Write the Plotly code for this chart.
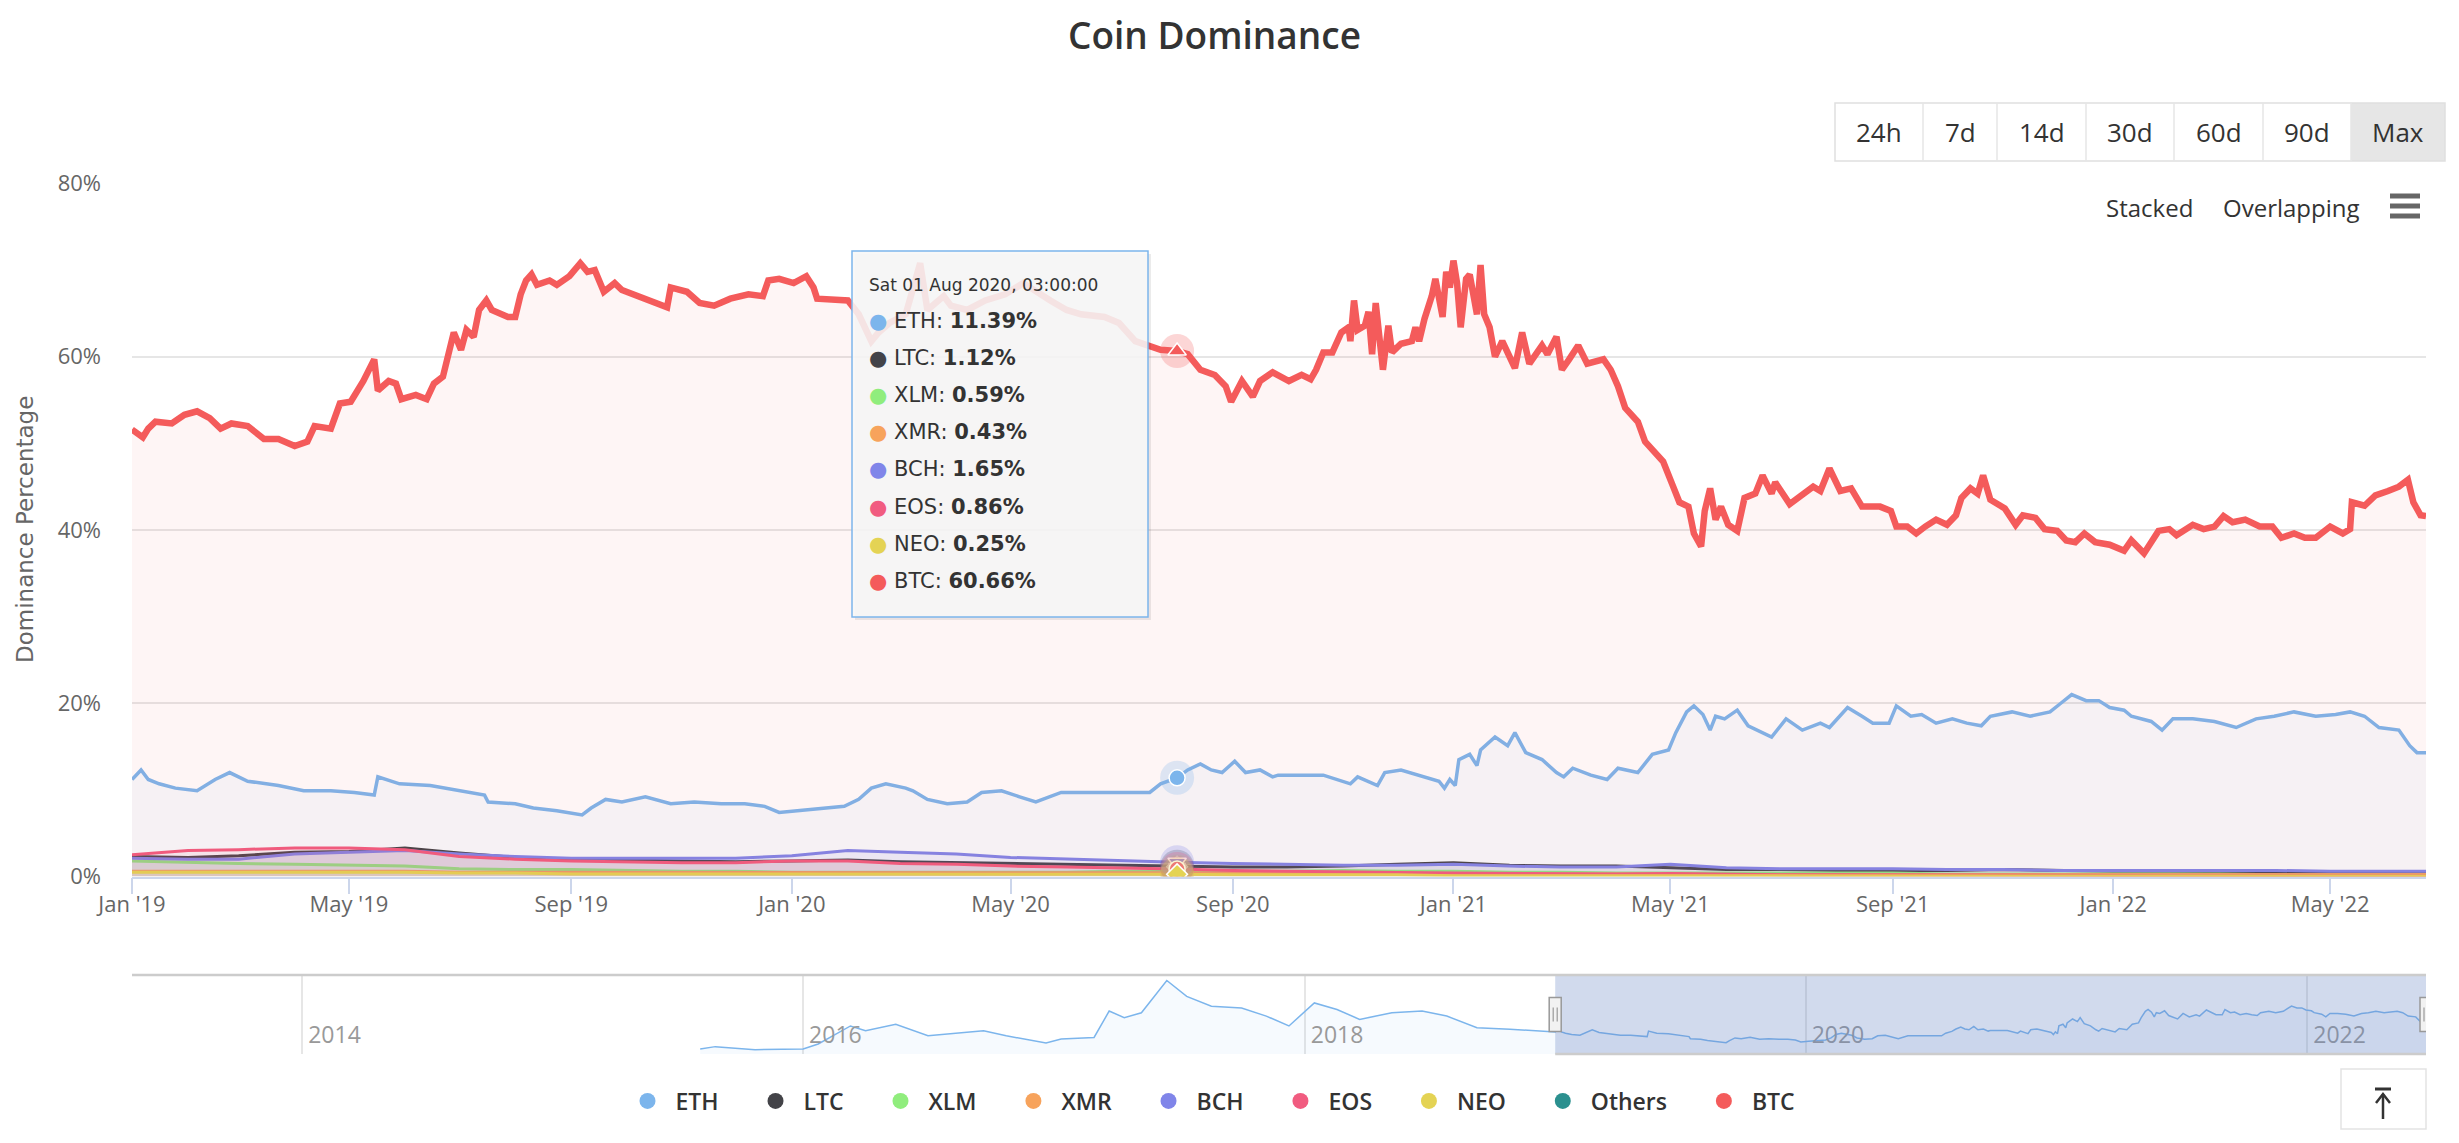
import pandas as pd
import plotly.graph_objects as go

W, H = 2459, 1143      # browser window
PAD = 8                # default page margin around the figure
FW, FH = W - 2 * PAD, H - 2 * PAD

# ---------------- data ----------------
BASE_DATE = "2019-01-01"

# BTC dominance (%); x = days since 2019-01-01
btc_day = [0, 6, 9, 13, 22, 29, 36, 43, 49, 55, 64, 73, 81, 90, 97, 101, 110, 115, 121, 128,
           134, 136, 142, 146, 149, 157, 163, 167, 172, 174, 178, 182, 185, 189, 192, 196, 199, 208, 212, 215,
           218, 221, 224, 231, 235, 242, 248, 252, 256, 261, 267, 271, 277, 284, 290, 296, 298, 307,
           314, 322, 331, 341, 349, 352, 358, 366, 373, 377, 379, 388, 396, 402, 409, 413, 419, 428, 436, 440,
           449, 453, 462, 472, 483, 493, 500, 508, 517, 525, 538, 546, 555, 563, 569, 578, 584, 591, 599, 605,
           608, 614, 620, 624, 631,
           640, 647, 652, 655, 659, 664, 669, 673, 674, 676, 678, 682, 684, 686, 688, 690, 692, 695, 697, 702,
           708, 710, 712, 715, 719, 721, 723, 725, 727, 729, 731, 733, 735, 738, 740, 742, 744, 746, 748, 751,
           754, 758, 761, 765, 769, 773, 780, 783, 788, 791, 795, 800, 805, 814, 818, 822, 826, 833, 837, 843,
           847, 852, 856, 861, 864, 868, 870, 873, 876, 879, 883, 888, 892, 898, 902, 907, 909, 917, 924, 930,
           934, 939, 945, 951, 957,
           961, 967, 973, 976, 982, 987, 992, 998, 1004, 1009, 1012, 1017, 1021, 1024, 1028, 1036, 1042, 1046, 1053, 1058,
           1065, 1070, 1075, 1080, 1086, 1094, 1102, 1106, 1113, 1121, 1127, 1131, 1140, 1146, 1152, 1157, 1162, 1169, 1177, 1184,
           1189, 1196, 1202, 1208, 1216, 1223, 1227, 1228, 1235, 1241, 1248, 1254, 1259, 1262, 1266, 1269]
btc_val = [51.6, 50.7, 51.7, 52.5, 52.3, 53.3, 53.7, 52.9, 51.7, 52.3, 52.0, 50.5, 50.5, 49.7, 50.2, 52.0, 51.7, 54.6, 54.8, 57.2,
           59.7, 56.1, 57.2, 56.9, 55.1, 55.6, 55.1, 56.9, 57.7, 59.2, 62.8, 60.8, 63.1, 62.3, 65.4, 66.5, 65.4, 64.6, 64.6, 67.2,
           68.8, 69.5, 68.3, 68.8, 68.3, 69.3, 70.8, 69.8, 70.0, 67.5, 68.5, 67.7, 67.2, 66.7, 66.2, 65.7, 68.0, 67.5,
           66.2, 65.9, 66.7, 67.2, 67.0, 68.8, 69.0, 68.5, 69.3, 68.0, 66.7, 66.5, 66.5, 64.9, 61.8, 62.8, 63.9, 64.9, 70.8, 65.4,
           67.0, 65.9, 65.4, 66.5, 67.2, 68.5, 67.5, 66.5, 65.4, 64.9, 64.6, 63.9, 61.8, 61.3, 60.8, 60.66, 60.3, 58.5, 57.9, 56.6,
           54.8, 57.2, 55.4, 57.2, 58.2,
           57.2, 57.9, 57.4, 58.5, 60.5, 60.5, 62.8, 63.4, 61.8, 66.5, 63.1, 63.6, 65.2, 60.3, 66.2, 62.8, 58.5, 63.6, 60.5, 61.5,
           61.8, 63.4, 61.8, 64.4, 67.0, 69.0, 67.2, 64.6, 69.8, 68.0, 71.1, 68.5, 63.4, 69.0, 69.5, 67.5, 64.9, 70.6, 64.9, 63.4,
           60.0, 61.8, 60.3, 58.7, 62.8, 59.2, 61.3, 60.3, 62.3, 58.5, 59.7, 61.3, 59.2, 59.7, 58.5, 56.6, 54.1, 52.5, 50.2, 48.9,
           47.9, 45.3, 43.2, 42.7, 39.6, 38.1, 42.2, 44.8, 41.2, 42.7, 40.6, 39.9, 43.7, 44.2, 46.3, 44.2, 45.5, 43.0, 44.2, 45.0,
           44.5, 47.1, 44.5, 44.8, 42.7,
           42.7, 42.7, 42.2, 40.4, 40.4, 39.6, 40.4, 41.2, 40.6, 41.7, 43.7, 44.8, 44.2, 46.3, 43.5, 42.5, 40.6, 41.7, 41.4, 40.1,
           39.9, 38.8, 38.6, 39.6, 38.6, 38.3, 37.6, 38.8, 37.3, 39.9, 40.1, 39.4, 40.6, 40.1, 40.4, 41.6, 40.9, 41.2, 40.4, 40.4,
           39.1, 39.6, 39.1, 39.1, 40.4, 39.6, 40.1, 43.2, 42.8, 44.0, 44.5, 45.0, 45.8, 43.2, 41.7, 41.6]

# ETH dominance (%); x = days since 2019-01-01
eth_day = [0, 5, 9, 15, 24, 36, 46, 54, 64, 81, 95, 110, 123, 134, 136, 148, 165, 186, 195, 197,
           212, 222, 235, 249, 254, 262, 271, 284, 298, 311,
           326, 339, 350, 358, 369, 381, 394, 402, 409, 417, 428, 432, 440, 451, 462, 470, 481, 491, 500, 514,
           529, 546, 563, 569, 578, 584, 591, 597, 603, 610, 616, 624, 631,
           634, 647, 659, 674, 678, 689, 693, 702, 712, 723, 726, 729, 732, 734, 740, 744, 746, 754, 761, 765,
           771, 780, 788, 792, 797, 807, 816, 822, 833, 841, 850, 854, 860, 864, 869, 873, 876, 881, 888, 894,
           907, 915, 924, 934, 939, 949, 957,
           963, 972, 976, 984, 990, 998, 1007, 1015, 1023, 1028, 1040, 1050, 1061, 1067, 1073, 1081, 1088, 1094, 1102, 1106,
           1117, 1123, 1129, 1140, 1152, 1164, 1175, 1185, 1196, 1208, 1219, 1227, 1235, 1243, 1254, 1260, 1264, 1269]
eth_val = [11.2, 12.3, 11.2, 10.7, 10.2, 9.9, 11.2, 12.0, 11.0, 10.5, 9.9, 9.9, 9.7, 9.4, 11.5, 10.7, 10.5, 9.7, 9.4, 8.6,
           8.4, 7.9, 7.6, 7.1, 7.9, 8.9, 8.6, 9.2, 8.4, 8.6,
           8.4, 8.4, 8.1, 7.4, 7.6, 7.9, 8.1, 8.9, 10.2, 10.7, 10.2, 9.9, 8.9, 8.4, 8.6, 9.7, 9.9, 9.2, 8.6, 9.7,
           9.7, 9.7, 9.7, 10.7, 11.39, 12.3, 13.0, 12.3, 12.0, 13.3, 12.0, 12.3, 11.5,
           11.7, 11.7, 11.7, 10.7, 11.5, 10.5, 12.0, 12.3, 11.7, 11.0, 10.2, 11.2, 10.5, 13.5, 14.1, 12.8, 14.6, 16.1, 15.1, 16.6,
           14.3, 13.5, 12.0, 11.5, 12.5, 11.7, 11.2, 12.5, 12.0, 14.1, 14.6, 16.6, 19.0, 19.7, 18.7, 16.9, 18.5, 18.2, 19.2, 17.4,
           16.1, 18.2, 16.9, 17.7, 17.2, 19.5, 18.5,
           17.7, 17.7, 19.7, 18.5, 18.7, 17.7, 18.2, 17.7, 17.4, 18.5, 19.0, 18.5, 19.0, 20.0, 21.0, 20.3, 20.3, 19.5, 19.2, 18.5,
           17.9, 16.9, 18.2, 18.2, 17.9, 17.2, 18.2, 18.5, 19.0, 18.5, 18.7, 19.0, 18.5, 17.2, 16.9, 15.1, 14.3, 14.3]

# Smaller coins, monthly readings (first of each month) plus the last day
small_dates = list(pd.date_range("2019-01-01", "2022-06-01", freq="MS").strftime("%Y-%m-%d")) + ["2022-06-23"]
ltc_val = [2.3, 2.2, 2.4, 2.8, 2.9, 3.3, 2.7, 2.2, 1.9, 1.9, 1.8, 1.7,
           1.8, 1.9, 1.7, 1.6, 1.5, 1.4, 1.3, 1.12, 1.1, 1.1, 1.2, 1.4,
           1.6, 1.3, 1.2, 1.2, 1.0, 0.8, 0.8, 0.7, 0.7, 0.7, 0.8, 0.7,
           0.6, 0.6, 0.55, 0.5, 0.5, 0.5, 0.5]
xlm_val = [1.8, 1.6, 1.5, 1.4, 1.3, 1.2, 0.9, 0.8, 0.8, 0.7, 0.6, 0.6,
           0.5, 0.5, 0.5, 0.5, 0.5, 0.5, 0.6, 0.59, 0.6, 0.6, 0.7, 0.6,
           0.6, 0.5, 0.5, 0.4, 0.4, 0.4, 0.4, 0.4, 0.4, 0.3, 0.3, 0.3,
           0.3, 0.3, 0.3, 0.2, 0.2, 0.2, 0.2]
xmr_val = [0.6, 0.6, 0.6, 0.6, 0.6, 0.6, 0.5, 0.5, 0.5, 0.5, 0.5, 0.5,
           0.5, 0.5, 0.5, 0.5, 0.5, 0.5, 0.45, 0.43, 0.4, 0.4, 0.4, 0.4,
           0.3, 0.3, 0.3, 0.3, 0.3, 0.2, 0.2, 0.2, 0.2, 0.2, 0.2, 0.2,
           0.2, 0.2, 0.2, 0.2, 0.2, 0.25, 0.25]
bch_val = [2.1, 2.0, 2.0, 2.6, 2.8, 3.0, 2.6, 2.3, 2.1, 2.1, 2.1, 2.1,
           2.4, 3.0, 2.8, 2.6, 2.2, 2.0, 1.8, 1.65, 1.5, 1.4, 1.3, 1.3,
           1.4, 1.2, 1.1, 1.1, 1.4, 1.0, 0.9, 0.9, 0.9, 0.8, 0.8, 0.7,
           0.7, 0.7, 0.7, 0.7, 0.6, 0.6, 0.6]
eos_val = [2.5, 3.0, 3.1, 3.3, 3.3, 3.1, 2.3, 2.0, 1.8, 1.7, 1.6, 1.6,
           1.8, 1.8, 1.5, 1.4, 1.2, 1.1, 1.0, 0.86, 0.7, 0.6, 0.5, 0.45,
           0.4, 0.35, 0.3, 0.3, 0.35, 0.25, 0.2, 0.2, 0.2, 0.15, 0.15, 0.12,
           0.12, 0.1, 0.1, 0.1, 0.08, 0.08, 0.08]
neo_val = [0.5, 0.5, 0.5, 0.5, 0.5, 0.5, 0.4, 0.4, 0.3, 0.3, 0.3, 0.3,
           0.3, 0.3, 0.3, 0.3, 0.3, 0.3, 0.3, 0.25, 0.2, 0.2, 0.2, 0.2,
           0.1, 0.1, 0.1, 0.1, 0.1, 0.1, 0.1, 0.1, 0.1, 0.1, 0.1, 0.1,
           0.05, 0.05, 0.05, 0.05, 0.05, 0.05, 0.05]

# ETH history shown in the navigator (before the main window)
eth_hist_dates = ["2015-08-04", "2015-08-26", "2015-10-23", "2016-01-01", "2016-01-23", "2016-03-10", "2016-04-01",
                  "2016-05-15", "2016-07-01", "2016-08-18", "2016-09-20", "2016-10-23", "2016-12-20", "2017-01-11",
                  "2017-02-28", "2017-03-22", "2017-04-13", "2017-05-08", "2017-05-30", "2017-06-14", "2017-07-13",
                  "2017-08-18", "2017-10-01", "2017-11-06", "2017-12-09", "2018-01-15", "2018-02-17", "2018-03-22",
                  "2018-05-08", "2018-06-21", "2018-07-27", "2018-09-09", "2018-10-27", "2018-12-23"]
eth_hist_val = [4.7, 5.6, 4.45, 4.7, 6.6, 13.45, 11.6, 14.1, 9.7, 10.7, 11.6, 9.7, 6.95, 8.45,
                9.1, 19.1, 16.6, 18.45, 25.95, 30.7, 24.7, 20.95, 20.3, 17.2, 13.45, 22.2, 19.7, 15.95,
                18.45, 19.1, 17.2, 12.8, 12.2, 11.2]

series_names = ["ETH", "LTC", "XLM", "XMR", "BCH", "EOS", "NEO", "Others", "BTC"]
series_colors = ["#7cb5ec", "#434348", "#90ed7d", "#f7a35c", "#8085e9", "#f15c80", "#e4d354", "#2b908f", "#f45b5b"]
series_symbols = ["circle", "diamond", "square", "triangle-up", "triangle-down", "circle", "diamond", "square", "triangle-up"]

hover_date = "2020-08-01 03:00:00"
tooltip_header = "Sat 01 Aug 2020, 03:00:00"
tooltip_names = ["ETH", "LTC", "XLM", "XMR", "BCH", "EOS", "NEO", "BTC"]
tooltip_vals = [11.39, 1.12, 0.59, 0.43, 1.65, 0.86, 0.25, 60.66]

xtick_vals = ["2019-01-01", "2019-05-01", "2019-09-01", "2020-01-01", "2020-05-01", "2020-09-01",
              "2021-01-01", "2021-05-01", "2021-09-01", "2022-01-01", "2022-05-01"]
xtick_text = ["Jan '19", "May '19", "Sep '19", "Jan '20", "May '20", "Sep '20",
              "Jan '21", "May '21", "Sep '21", "Jan '22", "May '22"]
ytick_vals = [0, 20, 40, 60, 80]
ytick_text = ["0%", "20%", "40%", "60%", "80%"]
nav_tick_vals = ["2014-01-01", "2016-01-01", "2018-01-01", "2020-01-01", "2022-01-01"]
nav_tick_text = ["2014", "2016", "2018", "2020", "2022"]
range_buttons = ["24h", "7d", "14d", "30d", "60d", "90d", "Max"]

main_start, main_end = "2019-01-01", "2022-06-23"
nav_start, nav_end = "2013-04-28", "2022-06-23"

# ---------------- helpers (page pixel -> paper fraction) ----------------
def px(x):
    return (x - PAD) / FW


def py(y):
    return 1 - (y - PAD) / FH


def rgba(hex_color, a):
    h = hex_color.lstrip("#")
    return "rgba(%d,%d,%d,%s)" % (int(h[0:2], 16), int(h[2:4], 16), int(h[4:6], 16), a)


base = pd.Timestamp(BASE_DATE)
btc_x = base + pd.to_timedelta(btc_day, unit="D")
eth_x = base + pd.to_timedelta(eth_day, unit="D")

series_x = {"ETH": eth_x, "BTC": btc_x, "Others": []}
series_y = {"ETH": eth_val, "BTC": btc_val, "Others": [],
            "LTC": ltc_val, "XLM": xlm_val, "XMR": xmr_val, "BCH": bch_val, "EOS": eos_val, "NEO": neo_val}
for n in ["LTC", "XLM", "XMR", "BCH", "EOS", "NEO"]:
    series_x[n] = small_dates

widths = {"BTC": 6.5, "ETH": 3.5}

fig = go.Figure()

for name, color in zip(series_names, series_colors):
    alpha = 0.06 if name in ("BTC", "ETH") else 0.09
    fig.add_trace(go.Scatter(
        x=series_x[name], y=series_y[name], mode="lines", name=name, legendgroup=name,
        showlegend=False, line=dict(color=color, width=widths.get(name, 3)),
        fill="tozeroy", fillcolor=rgba(color, alpha),
        hovertemplate=name + ": %{y:.2f}%<extra></extra>", xaxis="x", yaxis="y"))

# hover markers (halo + point)
for name, val in zip(tooltip_names, tooltip_vals):
    i = series_names.index(name)
    c = series_colors[i]
    fig.add_trace(go.Scatter(x=[hover_date], y=[val], mode="markers", showlegend=False, hoverinfo="skip",
                             legendgroup=name,
                             marker=dict(symbol="circle", size=34, color=rgba(c, 0.25), line=dict(width=0))))
    fig.add_trace(go.Scatter(x=[hover_date], y=[val], mode="markers", showlegend=False, hoverinfo="skip",
                             legendgroup=name,
                             marker=dict(symbol=series_symbols[i], size=16, color=c,
                                         line=dict(color="#ffffff", width=1.5))))

# navigator series
fig.add_trace(go.Scatter(
    x=list(pd.to_datetime(eth_hist_dates)) + list(eth_x), y=eth_hist_val + eth_val,
    mode="lines", line=dict(color="#7cb5ec", width=1.5), fill="tozeroy",
    fillcolor="rgba(124,181,236,0.07)", showlegend=False, hoverinfo="skip",
    xaxis="x2", yaxis="y2"))

# legend entries (circle markers); trailing no-break spaces give the item spacing
LEGEND_GAP = "\u00a0" * 4
for name, color in zip(series_names, series_colors):
    fig.add_trace(go.Scatter(x=[None], y=[None], mode="markers", name=name + LEGEND_GAP, legendgroup=name,
                             marker=dict(symbol="circle", size=16, color=color), hoverinfo="skip"))

# ---------------- shapes ----------------
shapes = []
# range buttons group
bx = [1835, 1923, 1997, 2086, 2174, 2263, 2351, 2445]
by0, by1 = 103, 161
shapes.append(dict(type="rect", xref="paper", yref="paper", x0=px(bx[-2]), x1=px(bx[-1]),
                   y0=py(by1), y1=py(by0), fillcolor="#e6e6e6", line=dict(width=0), layer="above"))
shapes.append(dict(type="rect", xref="paper", yref="paper", x0=px(bx[0]), x1=px(bx[-1]),
                   y0=py(by1), y1=py(by0), fillcolor="rgba(0,0,0,0)", line=dict(color="#e0e0e0", width=1.5),
                   layer="above"))
for xv in bx[1:-1]:
    shapes.append(dict(type="line", xref="paper", yref="paper", x0=px(xv), x1=px(xv),
                       y0=py(by1), y1=py(by0), line=dict(color="#e6e6e6", width=1.5), layer="above"))
# hamburger icon
for yv in [196, 206, 216]:
    shapes.append(dict(type="line", xref="paper", yref="paper", x0=px(2390), x1=px(2420),
                       y0=py(yv), y1=py(yv), line=dict(color="#666666", width=5), layer="above"))

# tooltip box (shadow + box)
tx0, tx1, ty0, ty1 = 852, 1148, 251, 617
shapes.append(dict(type="rect", xref="paper", yref="paper", x0=px(tx0 + 3), x1=px(tx1 + 3),
                   y0=py(ty1 + 3), y1=py(ty0 + 3), fillcolor="rgba(0,0,0,0.08)", line=dict(width=0),
                   layer="above"))
shapes.append(dict(type="rect", xref="paper", yref="paper", x0=px(tx0), x1=px(tx1),
                   y0=py(ty1), y1=py(ty0), fillcolor="rgba(247,247,247,0.88)",
                   line=dict(color="#7cb5ec", width=1.5), layer="above"))

# navigator: mask, outline, handles
shapes.append(dict(type="rect", xref="x2", yref="y2 domain", x0=main_start, x1=main_end, y0=0, y1=1,
                   fillcolor="rgba(102,133,194,0.3)", line=dict(width=0), layer="above"))
shapes.append(dict(type="line", xref="x2 domain", yref="y2 domain", x0=0, x1=1, y0=1, y1=1,
                   line=dict(color="#cccccc", width=2.5), layer="above"))
shapes.append(dict(type="line", xref="x2", yref="y2 domain", x0=main_start, x1=main_end, y0=0, y1=0,
                   line=dict(color="#cccccc", width=2.5), layer="above"))
nav_mid = py((975 + 1054) / 2)
for hx in [main_start, main_end]:
    shapes.append(dict(type="rect", xref="x2", yref="paper", xsizemode="pixel", ysizemode="pixel",
                       xanchor=hx, yanchor=nav_mid, x0=-6, x1=6, y0=-17, y1=17,
                       fillcolor="#f2f2f2", line=dict(color="#999999", width=1.5), layer="above"))
    for off in [-2, 2]:
        shapes.append(dict(type="line", xref="x2", yref="paper", xsizemode="pixel", ysizemode="pixel",
                           xanchor=hx, yanchor=nav_mid, x0=off, x1=off, y0=-7, y1=7,
                           line=dict(color="#999999", width=1.2), layer="above"))

# bottom-right "back to top" button
shapes.append(dict(type="rect", xref="paper", yref="paper", x0=px(2341), x1=px(2426), y0=py(1129), y1=py(1069),
                   fillcolor="#ffffff", line=dict(color="#e3e3e3", width=1.5), layer="above"))
shapes.append(dict(type="line", xref="paper", yref="paper", x0=px(2375), x1=px(2391), y0=py(1089), y1=py(1089),
                   line=dict(color="#333333", width=3), layer="above"))
shapes.append(dict(type="line", xref="paper", yref="paper", x0=px(2383), x1=px(2383), y0=py(1119), y1=py(1094),
                   line=dict(color="#333333", width=2.5), layer="above"))
shapes.append(dict(type="path", xref="paper", yref="paper",
                   path="M %f %f L %f %f L %f %f" % (px(2376), py(1103), px(2383), py(1094), px(2390), py(1103)),
                   line=dict(color="#333333", width=2.5), layer="above"))

# ---------------- annotations ----------------
ann = []


def label(text, x, y, size, color="#333333", family="Open Sans", xanchor="center", weight=None, angle=0):
    f = dict(size=size, color=color, family=family)
    if weight:
        f["weight"] = weight
    ann.append(dict(text=text, x=px(x), y=py(y), xref="paper", yref="paper", showarrow=False,
                    xanchor=xanchor, yanchor="middle", textangle=angle, font=f))


label("Coin Dominance", 1214, 35, 37, weight=600)
label("Dominance Percentage", 25, 530, 23, color="#666666", family="DejaVu Sans", angle=-90)
label("Stacked", 2149, 208, 24)
label("Overlapping", 2291, 208, 24)
for i, lab in enumerate(range_buttons):
    label(lab, (bx[i] + bx[i + 1]) / 2, (by0 + by1) / 2, 26)
label(tooltip_header, 867, 285, 17, family="DejaVu Sans", xanchor="left")
for k, (name, val) in enumerate(zip(tooltip_names, tooltip_vals)):
    c = series_colors[series_names.index(name)]
    label("<span style='color:%s'>●</span> %s: <b>%.2f%%</b>" % (c, name, val),
          867, 321 + 37.1 * k, 21, family="DejaVu Sans", xanchor="left")

# ---------------- layout ----------------
fig.update_layout(
    template="none",
    width=FW, height=FH,
    margin=dict(l=0, r=0, t=0, b=0),
    paper_bgcolor="#ffffff", plot_bgcolor="#ffffff",
    font=dict(family="Open Sans", color="#333333"),
    showlegend=True,
    legend=dict(orientation="h", x=px(1222), xanchor="center", y=py(1101), yanchor="middle",
                font=dict(size=23, color="#333333", family="Open Sans", weight=600),
                itemwidth=46, bgcolor="rgba(0,0,0,0)", itemclick="toggle"),
    xaxis=dict(domain=[px(132), px(2426)], type="date", range=[main_start, main_end], anchor="y",
               tickvals=xtick_vals, ticktext=xtick_text, ticks="outside", ticklen=16, tickwidth=1.5,
               tickcolor="#ccd6eb", showline=True, linecolor="#ccd6eb", linewidth=1.5, showgrid=False,
               zeroline=False, tickfont=dict(size=22, color="#666666"), ticklabelstandoff=-9,
               automargin=False, rangeslider=dict(visible=False)),
    yaxis=dict(domain=[py(876.5), py(183.5)], range=[0, 80], anchor="x",
               tickvals=ytick_vals, ticktext=ytick_text, showgrid=True, gridcolor="#e6e6e6", gridwidth=1.5,
               zeroline=False, showline=False, ticks="", ticklabelstandoff=30,
               tickfont=dict(size=22, color="#666666"), automargin=False),
    xaxis2=dict(domain=[px(132), px(2426)], type="date", range=[nav_start, nav_end], anchor="y2",
                tickvals=nav_tick_vals, ticktext=nav_tick_text, ticklabelposition="inside right",
                ticklabelshift=6,
                showgrid=True, gridcolor="#e6e6e6", gridwidth=1.5, showline=False, ticks="",
                zeroline=False, tickfont=dict(size=23, color="#999999"), automargin=False),
    yaxis2=dict(domain=[py(1054), py(975)], range=[2.8, 32.8], anchor="x2", visible=False,
                showgrid=False, zeroline=False, automargin=False),
    shapes=shapes,
    annotations=ann,
    hovermode="closest",
)

fig.write_html("out.html")
